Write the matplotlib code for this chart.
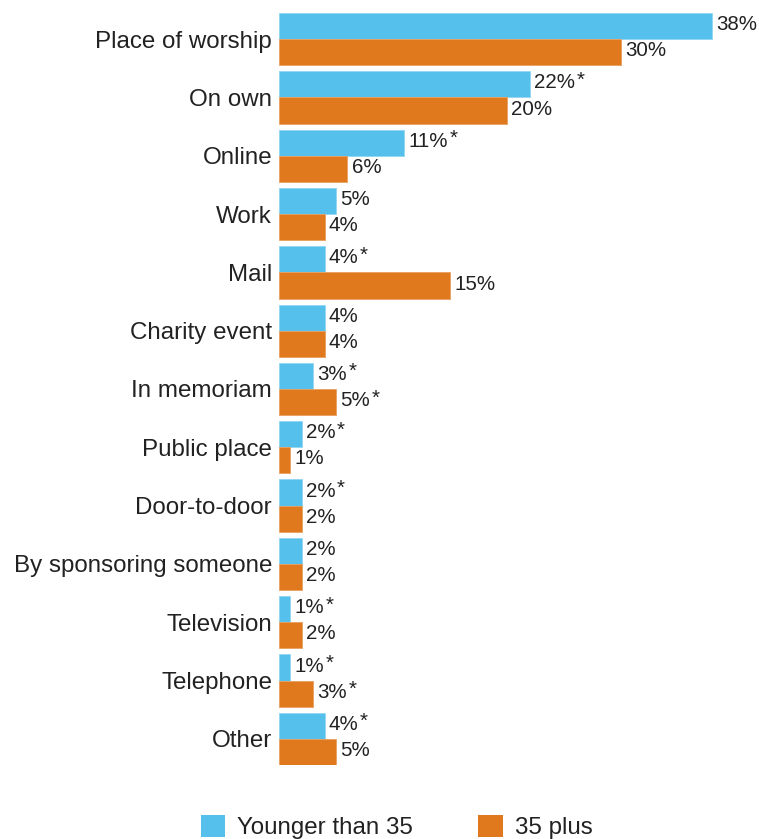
import matplotlib.pyplot as plt
import numpy as np
from matplotlib.patches import Patch

categories = ['Place of worship', 'On own', 'Online', 'Work', 'Mail', 'Charity event',
              'In memoriam', 'Public place', 'Door-to-door', 'By sponsoring someone',
              'Television', 'Telephone', 'Other']
younger = [38, 22, 11, 5, 4, 4, 3, 2, 2, 2, 1, 1, 4]
younger_sig = [False, True, True, False, True, False, True, True, True, False, True, True, True]
older = [30, 20, 6, 4, 15, 4, 5, 1, 2, 2, 2, 3, 5]
older_sig = [False, False, False, False, False, False, True, False, False, False, False, True, False]
legend_labels = ['Younger than 35', '35 plus']

BLUE = '#55C0EC'
ORANGE = '#E0781E'
TEXT = '#222222'

W, H = 759, 839
fig = plt.figure(figsize=(W / 100, H / 100), dpi=100)
plt.rcParams['font.family'] = ['Liberation Sans', 'DejaVu Sans']

# axes spans from the top of the first bar to the bottom of the last one
left_px, right_px = 279, 759
top_px, bottom_px = 13, 765
ax = fig.add_axes([left_px / W, 1 - bottom_px / H, (right_px - left_px) / W, (bottom_px - top_px) / H])

px_per_pct = 433 / 38
bh = 26 / 58
y = np.arange(len(categories))

ax.barh(y - bh / 2, younger, height=bh, color=BLUE, edgecolor='#8fd6f3', linewidth=0.6)
ax.barh(y + bh / 2, older, height=bh, color=ORANGE, edgecolor='#eaa060', linewidth=0.6)

ax.set_xlim(0, (right_px - left_px) / px_per_pct)
ax.set_ylim(len(categories) - 1 + bh, -bh)

ax.set_yticks(y, categories, fontsize=17.4, color=TEXT)
ax.set_xticks([])
ax.tick_params(axis='y', length=0, pad=5)
for s in ax.spines.values():
    s.set_visible(False)


def value_label(x, yc, sig):
    t = ax.annotate(f'{x}%', xy=(x, yc), xytext=(3, 1), textcoords='offset points',
                    ha='left', va='center', fontsize=14.8, color=TEXT)
    if sig:
        ax.annotate('*', xy=(1, 1), xycoords=t, xytext=(1, 2), textcoords='offset points',
                    ha='left', va='top', fontsize=14.8, color=TEXT)


for i in range(len(categories)):
    value_label(younger[i], y[i] - bh / 2, younger_sig[i])
    value_label(older[i], y[i] + bh / 2, older_sig[i])

handles = [Patch(facecolor=BLUE, edgecolor='none'), Patch(facecolor=ORANGE, edgecolor='none')]
fig.legend(handles, legend_labels, ncol=2, loc='center left', bbox_to_anchor=(201 / W, 12 / H),
           frameon=False, fontsize=17.4, handlelength=1.0, handleheight=1.0,
           handletextpad=0.5, columnspacing=2.7, borderpad=0, borderaxespad=0,
           labelcolor=TEXT)

fig.savefig('out.png', dpi=100)
